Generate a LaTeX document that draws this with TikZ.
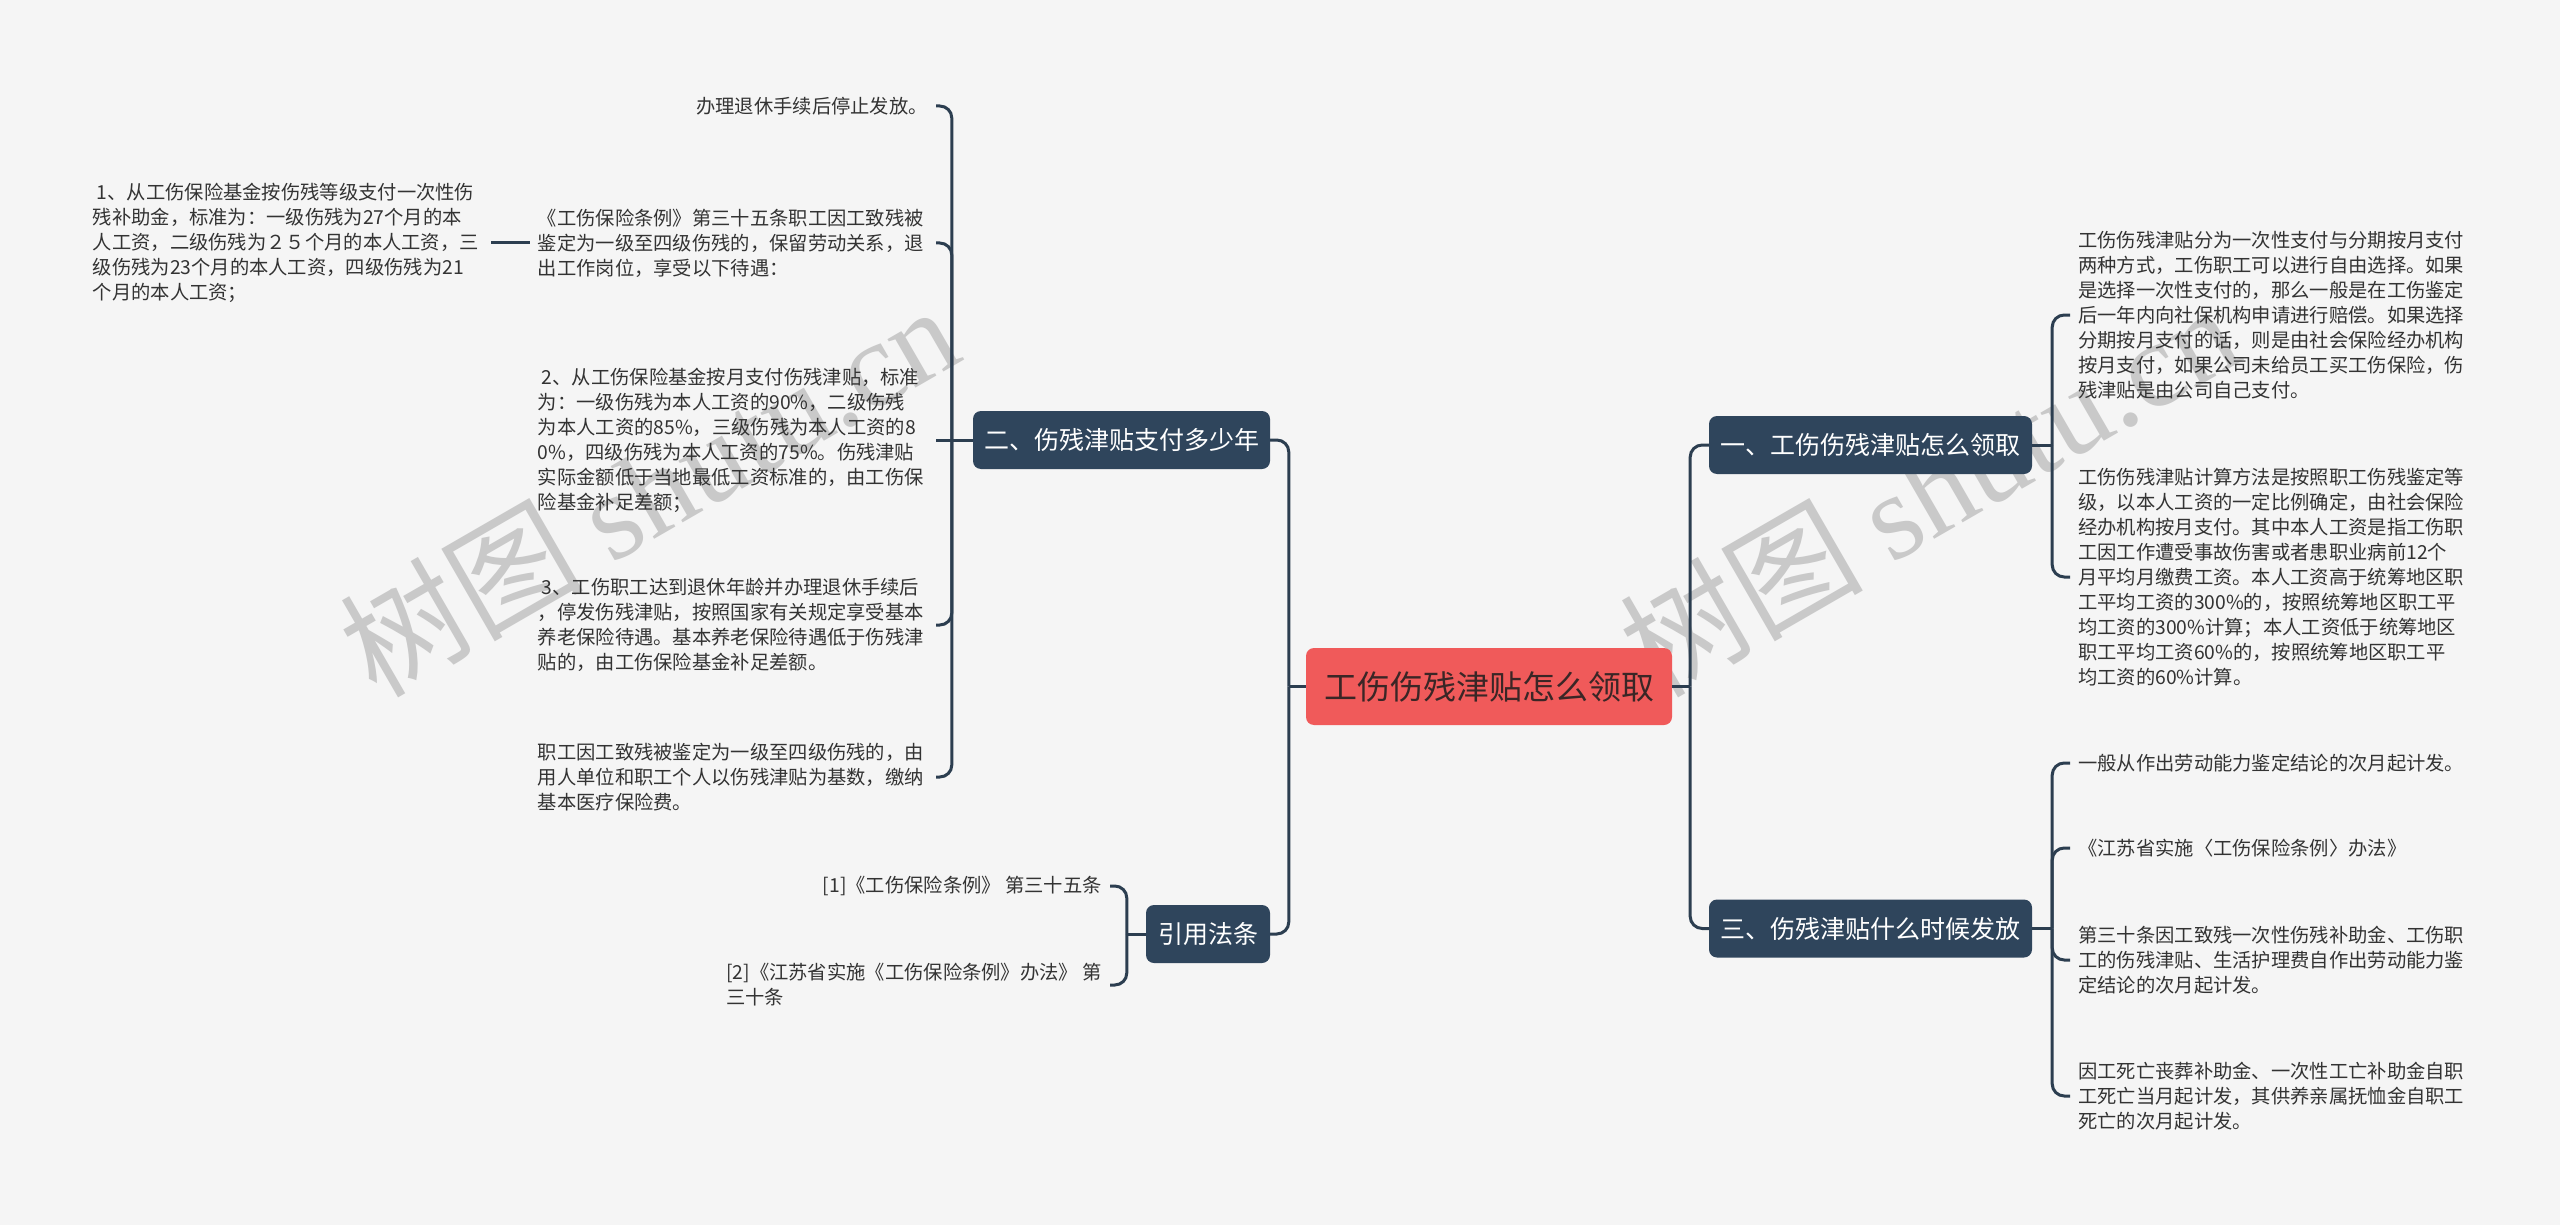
\documentclass[tikz,border=0pt]{standalone}
\usepackage{fontspec}
\setmainfont{Noto Sans CJK SC}
\newfontfamily\wmlatin{Liberation Serif}
\usetikzlibrary{calc}
\definecolor{bg}{HTML}{F5F5F5}
\definecolor{darkbox}{HTML}{2F455C}
\definecolor{linec}{HTML}{2C3E50}
\definecolor{rootred}{HTML}{F05A5A}
\definecolor{roottext}{HTML}{3A2626}
\definecolor{leaftext}{HTML}{333333}
\definecolor{wm}{HTML}{C9C9C9}
\begin{document}
\begin{tikzpicture}[x=1pt,y=-1pt,
  conn/.style={draw=linec, line width=3pt},
  rconn/.style={conn, rounded corners=12pt},
  rootbox/.style={fill=rootred, rounded corners=8pt, text=roottext, font=\fontsize{33}{40}\selectfont, minimum width=366pt, minimum height=77pt, inner sep=0pt},
  branch/.style={fill=darkbox, rounded corners=8pt, text=white, font=\fontsize{25}{30}\selectfont, minimum height=58pt, inner sep=0pt},
  leaf/.style={text=leaftext, font=\fontsize{19.3}{25}\selectfont, inner xsep=8pt, inner ysep=0pt, align=left},
  leafw/.style={leaf, text width=390pt},
  wmark/.style={text=wm, font=\fontsize{122}{130}\selectfont, rotate=30, anchor=base west, inner sep=0pt}
]
\fill[bg] (0,0) rectangle (2560,1225);
\useasboundingbox (0,0) rectangle (2560,1225);

% watermarks
\node[wmark] (wm1) at (376,700) {树图 {\wmlatin shutu.cn}};
\node[wmark] (wm2) at (1656,700) {树图 {\wmlatin shutu.cn}};

% main nodes
\node[rootbox] (root) at (1489,686.5) {工伤伤残津贴怎么领取};
\node[branch, minimum width=297pt] (b2) at (1121.5,440) {二、伤残津贴支付多少年};
\node[branch, minimum width=124pt] (bref) at (1208,934) {引用法条};
\node[branch, minimum width=323pt] (b1) at (1870.5,445) {一、工伤伤残津贴怎么领取};
\node[branch, minimum width=323pt] (b3) at (1870.5,928.5) {三、伤残津贴什么时候发放};

% left leaves
\node[leaf, anchor=east] (l1) at (936,106) {办理退休手续后停止发放。};
\node[leafw, anchor=east] (l2) at (936,243) {《工伤保险条例》第三十五条职工因工致残被\\鉴定为一级至四级伤残的，保留劳动关系，退\\出工作岗位，享受以下待遇：};
\node[leafw, anchor=east] (l2a) at (491,243) {\hspace*{4pt}1、从工伤保险基金按伤残等级支付一次性伤\\残补助金，标准为：一级伤残为27个月的本\\人工资，二级伤残为２５个月的本人工资，三\\级伤残为23个月的本人工资，四级伤残为21\\个月的本人工资；};
\node[leafw, anchor=east] (l3) at (936,440) {\hspace*{4pt}2、从工伤保险基金按月支付伤残津贴，标准\\为：一级伤残为本人工资的90\%，二级伤残\\为本人工资的85\%，三级伤残为本人工资的8\\0\%，四级伤残为本人工资的75\%。伤残津贴\\实际金额低于当地最低工资标准的，由工伤保\\险基金补足差额；};
\node[leafw, anchor=east] (l4) at (936,625) {\hspace*{4pt}3、工伤职工达到退休年龄并办理退休手续后\\，停发伤残津贴，按照国家有关规定享受基本\\养老保险待遇。基本养老保险待遇低于伤残津\\贴的，由工伤保险基金补足差额。};
\node[leafw, anchor=east] (l5) at (936,777) {职工因工致残被鉴定为一级至四级伤残的，由\\用人单位和职工个人以伤残津贴为基数，缴纳\\基本医疗保险费。};

% reference leaves
\node[leaf, anchor=east] (r1) at (1110,886) {[1]《工伤保险条例》 第三十五条};
\node[leaf, anchor=east] (r2) at (1110,985) {[2]《江苏省实施《工伤保险条例》办法》 第\\三十条};

% right leaves
\node[leafw, anchor=west] (a1) at (2070,315) {工伤伤残津贴分为一次性支付与分期按月支付\\两种方式，工伤职工可以进行自由选择。如果\\是选择一次性支付的，那么一般是在工伤鉴定\\后一年内向社保机构申请进行赔偿。如果选择\\分期按月支付的话，则是由社会保险经办机构\\按月支付，如果公司未给员工买工伤保险，伤\\残津贴是由公司自己支付。};
\node[leafw, anchor=west] (a2) at (2070,577) {工伤伤残津贴计算方法是按照职工伤残鉴定等\\级，以本人工资的一定比例确定，由社会保险\\经办机构按月支付。其中本人工资是指工伤职\\工因工作遭受事故伤害或者患职业病前12个\\月平均月缴费工资。本人工资高于统筹地区职\\工平均工资的300\%的，按照统筹地区职工平\\均工资的300\%计算；本人工资低于统筹地区\\职工平均工资60\%的，按照统筹地区职工平\\均工资的60\%计算。};
\node[leaf, anchor=west] (c1) at (2070,763) {一般从作出劳动能力鉴定结论的次月起计发。};
\node[leaf, anchor=west] (c2) at (2070,848) {《江苏省实施〈工伤保险条例〉办法》};
\node[leafw, anchor=west] (c3) at (2070,960) {第三十条因工致残一次性伤残补助金、工伤职\\工的伤残津贴、生活护理费自作出劳动能力鉴\\定结论的次月起计发。};
\node[leafw, anchor=west] (c4) at (2070,1096) {因工死亡丧葬补助金、一次性工亡补助金自职\\工死亡当月起计发，其供养亲属抚恤金自职工\\死亡的次月起计发。};

% root trunks
\coordinate (jl) at ($(root.west)+(-17,0)$);
\coordinate (jr) at ($(root.east)+(18,0)$);
\draw[conn] (root.west) -- (jl);
\draw[rconn] (jl) |- (b2.east);
\draw[rconn] (jl) |- (bref.east);
\draw[conn] (root.east) -- (jr);
\draw[rconn] (jr) |- (b1.west);
\draw[rconn] (jr) |- (b3.west);

% branch two
\coordinate (j2) at ($(b2.west)+(-21,0)$);
\draw[conn] (b2.west) -- (j2);
\draw[rconn] (j2) |- (l1.east);
\draw[rconn] (j2) |- (l2.east);
\draw[conn] (j2) -- (l3.east);
\draw[rconn] (j2) |- (l4.east);
\draw[rconn] (j2) |- (l5.east);
\draw[conn] (l2.west) -- (l2a.east);

% reference branch
\coordinate (jref) at ($(bref.west)+(-19,0)$);
\draw[conn] (bref.west) -- (jref);
\draw[rconn] (jref) |- (r1.east);
\draw[rconn] (jref) |- (r2.east);

% branch one
\coordinate (j1) at ($(b1.east)+(20,0)$);
\draw[conn] (b1.east) -- (j1);
\draw[rconn] (j1) |- (a1.west);
\draw[rconn] (j1) |- (a2.west);

% branch three
\coordinate (j3) at ($(b3.east)+(20,0)$);
\draw[conn] (b3.east) -- (j3);
\draw[rconn] (j3) |- (c1.west);
\draw[rconn] (j3) |- (c2.west);
\draw[rconn] (j3) |- (c3.west);
\draw[rconn] (j3) |- (c4.west);
\end{tikzpicture}
\end{document}
